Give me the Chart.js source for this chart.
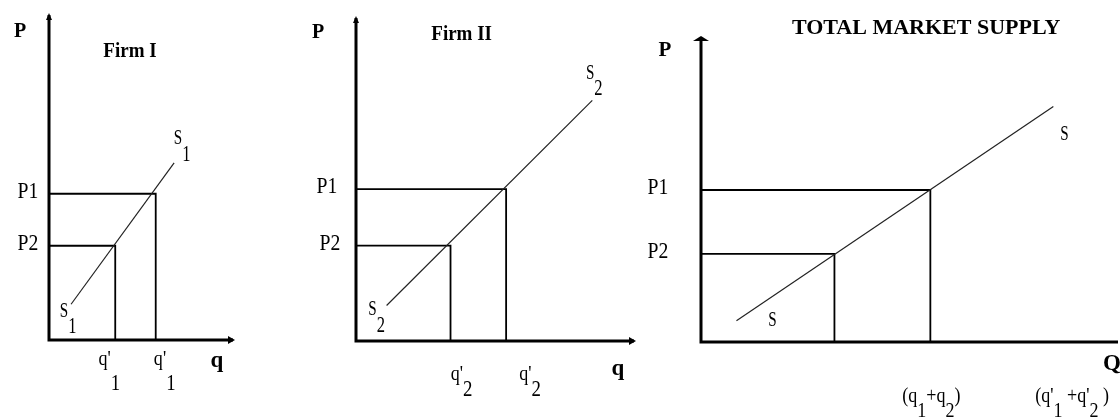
<!DOCTYPE html>
<html>
<head>
<meta charset="utf-8">
<script src="https://cdn.jsdelivr.net/npm/chart.js@4"></script>
<style>
  body { margin: 0; background: #fff; }
  #wrap { position: relative; width: 1120px; height: 417px; overflow: hidden; background: #fff; }
  canvas { position: absolute; top: 0; }
</style>
</head>
<body>
<div id="wrap">
  <canvas id="firm1" width="280" height="417" style="left:0px"></canvas>
  <canvas id="firm2" width="360" height="417" style="left:280px"></canvas>
  <canvas id="market" width="480" height="417" style="left:640px"></canvas>
</div>
<script>
// ---- data (axis units 0..10) ----
var priceNames = ['P1', 'P2'];

var firm1Price = [4.5, 2.9];
var firm1Qty = [5.8, 3.6];
var firm1SupplyX = [1.2, 6.8];
var firm1SupplyY = [1.1, 5.45];

var firm2Price = [4.7, 2.95];
var firm2Qty = [5.4, 3.4];
var firm2SupplyX = [1.1, 8.5];
var firm2SupplyY = [1.1, 7.45];

var marketPrice = [5.0, 2.9];
var marketQty = [5.5, 3.2];
var marketSupplyX = [0.85, 8.45];
var marketSupplyY = [0.7, 7.75];
var marketQtyTicks = [5.5, 8.9];

var FONT = "'Liberation Serif', 'DejaVu Serif', serif";

// draw a label made of pieces [text, dy, size], squeezed horizontally by cond
function drawPieces(ctx, pieces, x, y, size, bold, cond) {
  var w = 0;
  pieces.forEach(function(p) {
    ctx.font = (bold ? 'bold ' : '') + (p[2] || size) + 'px ' + FONT;
    w += ctx.measureText(p[0]).width;
  });
  ctx.save();
  ctx.translate(x, y);
  ctx.scale(cond, 1);
  var cx = -w / 2;
  ctx.textAlign = 'left';
  ctx.textBaseline = 'middle';
  pieces.forEach(function(p) {
    ctx.font = (bold ? 'bold ' : '') + (p[2] || size) + 'px ' + FONT;
    ctx.fillText(p[0], cx, p[1] || 0);
    cx += ctx.measureText(p[0]).width;
  });
  ctx.restore();
}

var econPlugin = {
  id: 'econ',
  afterDatasetsDraw: function(chart, args, opts) {
    var ctx = chart.ctx, a = chart.chartArea;
    var xs = chart.scales.x, ys = chart.scales.y;
    ctx.save();
    ctx.strokeStyle = '#000';
    ctx.fillStyle = '#000';
    ctx.lineWidth = 3;
    ctx.beginPath();
    ctx.moveTo(a.left, a.top);
    ctx.lineTo(a.left, a.bottom);
    ctx.lineTo(a.right, a.bottom);
    ctx.stroke();
    // arrow heads
    ctx.beginPath();
    if (opts.flatArrow) {
      ctx.moveTo(a.left - 8, a.top + 3);
      ctx.lineTo(a.left, a.top - 2);
      ctx.lineTo(a.left + 8, a.top + 3);
    } else {
      ctx.moveTo(a.left - 3, a.top + 5);
      ctx.lineTo(a.left, a.top - 2);
      ctx.lineTo(a.left + 3, a.top + 5);
    }
    ctx.closePath();
    ctx.fill();
    if (opts.arrowX) {
      ctx.beginPath();
      ctx.moveTo(a.right - 5, a.bottom - 4);
      ctx.lineTo(a.right + 2, a.bottom);
      ctx.lineTo(a.right - 5, a.bottom + 4);
      ctx.closePath();
      ctx.fill();
    }
    // labels
    (opts.labels || []).forEach(function(l) {
      var x = l.xv !== undefined ? xs.getPixelForValue(l.xv) : 0;
      var y = l.yv !== undefined ? ys.getPixelForValue(l.yv) : 0;
      if (l.left) x = a.left;
      if (l.bottom) y = a.bottom;
      var cond = l.cond || (l.bold ? 1 : 0.82);
      drawPieces(ctx, l.pieces, x + (l.dx || 0), y + (l.dy || 0), l.size || 24, l.bold, cond);
    });
    ctx.restore();
  }
};

function dropLine(q, p) {
  return [{x: 0, y: p}, {x: q, y: p}, {x: q, y: 0}];
}

function pts(xsArr, ysArr) {
  return xsArr.map(function(x, i) { return {x: x, y: ysArr[i]}; });
}

function makeChart(id, price, qty, sx, sy, padding, labels, extra) {
  var datasets = [
    { data: pts(sx, sy), borderColor: '#222', borderWidth: 1.2 }
  ];
  price.forEach(function(p, i) {
    datasets.push({ data: dropLine(qty[i], p), borderColor: '#000', borderWidth: 1.8 });
  });
  datasets.forEach(function(d) {
    d.showLine = true;
    d.pointRadius = 0;
    d.fill = false;
  });
  var econ = { labels: labels, arrowX: extra.arrowX, flatArrow: extra.flatArrow };
  return new Chart(document.getElementById(id).getContext('2d'), {
    type: 'scatter',
    data: { datasets: datasets },
    options: {
      responsive: false,
      animation: false,
      layout: { padding: padding },
      scales: {
        x: { type: 'linear', min: 0, max: 10, display: false },
        y: { type: 'linear', min: 0, max: 10, display: false }
      },
      plugins: {
        legend: { display: false },
        tooltip: { enabled: false },
        econ: econ
      }
    },
    plugins: [econPlugin]
  });
}

// ---- Firm I ----
makeChart('firm1', firm1Price, firm1Qty, firm1SupplyX, firm1SupplyY,
  { left: 49, right: 47, top: 15, bottom: 77 },
  [
    { pieces: [['P']], xv: 0, yv: 10, dx: -29, dy: 17, bold: true, size: 20 },
    { pieces: [['Firm I']], xv: 4.4, yv: 10, dy: 37, bold: true, size: 20, cond: 0.95 },
    { pieces: [['q']], xv: 10, bottom: true, dx: -16, dy: 21, bold: true, size: 23 },
    { pieces: [[priceNames[0]]], left: true, yv: firm1Price[0], dx: -21, dy: -2 },
    { pieces: [[priceNames[1]]], left: true, yv: firm1Price[1], dx: -21, dy: -2 },
    { pieces: [["q'"], ['1', 25, 23]], xv: firm1Qty[1], bottom: true, dx: -6, dy: 19, size: 22 },
    { pieces: [["q'"], ['1', 25, 23]], xv: firm1Qty[0], bottom: true, dx: 9, dy: 19, size: 22 },
    { pieces: [['S', -8, 21], ['1', 8, 23]], xv: firm1SupplyX[1], yv: firm1SupplyY[1], dx: 8, dy: -16, cond: 0.72 },
    { pieces: [['S', -8, 21], ['1', 8, 23]], xv: firm1SupplyX[0], yv: firm1SupplyY[0], dx: -3, dy: 15, cond: 0.72 }
  ],
  { arrowX: true, flatArrow: false });

// ---- Firm II ----
makeChart('firm2', firm2Price, firm2Qty, firm2SupplyX, firm2SupplyY,
  { left: 76, right: 6, top: 18, bottom: 76 },
  [
    { pieces: [['P']], xv: 0, yv: 10, dx: -38, dy: 15, bold: true, size: 20 },
    { pieces: [['Firm II']], xv: 3.8, yv: 10, dy: 17, bold: true, size: 20, cond: 0.95 },
    { pieces: [['q']], xv: 10, bottom: true, dx: -16, dy: 28, bold: true, size: 23 },
    { pieces: [[priceNames[0]]], left: true, yv: firm2Price[0], dx: -29, dy: -2 },
    { pieces: [[priceNames[1]]], left: true, yv: firm2Price[1], dx: -26, dy: -2 },
    { pieces: [["q'"], ['2', 16, 23]], xv: firm2Qty[1], bottom: true, dx: 11, dy: 33, size: 22 },
    { pieces: [["q'"], ['2', 16, 23]], xv: firm2Qty[0], bottom: true, dx: 24, dy: 33, size: 22 },
    { pieces: [['S', -8, 21], ['2', 8, 23]], xv: firm2SupplyX[1], yv: firm2SupplyY[1], dx: 2, dy: -19, cond: 0.72 },
    { pieces: [['S', -8, 21], ['2', 8, 23]], xv: firm2SupplyX[0], yv: firm2SupplyY[0], dx: -10, dy: 12, cond: 0.72 }
  ],
  { arrowX: true, flatArrow: false });

// ---- Total market supply ----
makeChart('market', marketPrice, marketQty, marketSupplyX, marketSupplyY,
  { left: 61, right: 2, top: 38, bottom: 75 },
  [
    { pieces: [['TOTAL MARKET SUPPLY']], xv: 5.4, yv: 10, dy: -10, bold: true, size: 22 },
    { pieces: [['P']], left: true, yv: 10, dx: -36, dy: 13, bold: true, size: 21 },
    { pieces: [['Q']], xv: 10, bottom: true, dx: -6, dy: 22, bold: true, size: 23 },
    { pieces: [[priceNames[0]]], left: true, yv: marketPrice[0], dx: -43, dy: -2 },
    { pieces: [[priceNames[1]]], left: true, yv: marketPrice[1], dx: -43, dy: -2 },
    { pieces: [['(q'], ['1', 15], ['+q'], ['2', 15], [')']], xv: marketQtyTicks[0], bottom: true, dx: 1, dy: 54, size: 22 },
    { pieces: [["(q'"], ['1', 15], [" +q'"], ['2', 15], [' )']], xv: marketQtyTicks[1], bottom: true, dx: 0, dy: 54, size: 22 },
    { pieces: [['S', 0, 21]], xv: marketSupplyX[1], yv: marketSupplyY[1], dx: 11, dy: 28, cond: 0.72 },
    { pieces: [['S', 0, 21]], xv: marketSupplyX[0], yv: marketSupplyY[0], dx: 36, dy: 0, cond: 0.72 }
  ],
  { arrowX: false, flatArrow: true });
</script>
</body>
</html>
